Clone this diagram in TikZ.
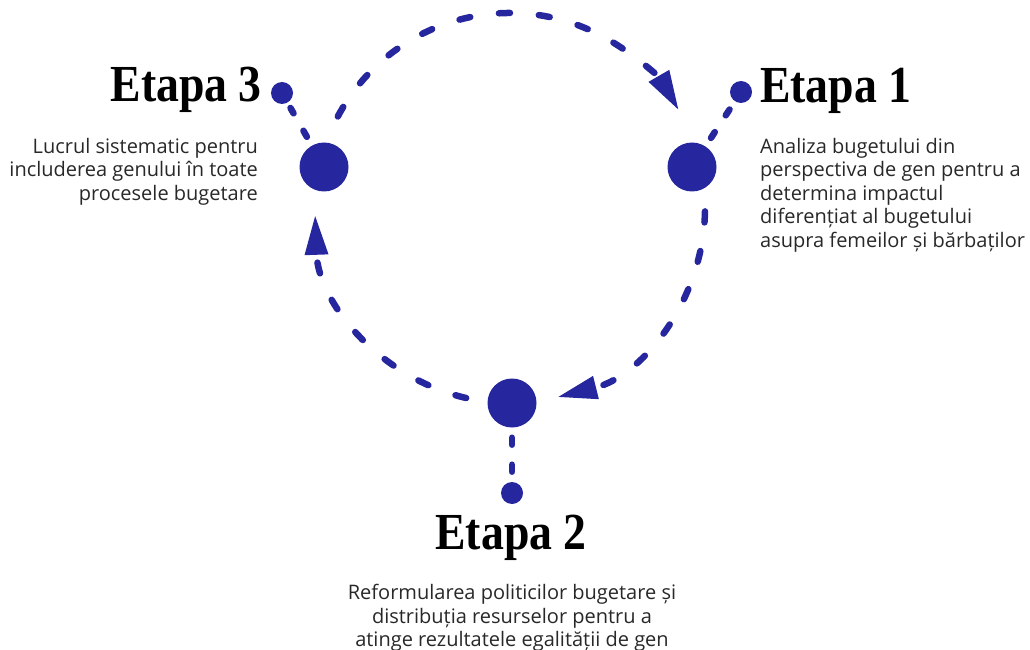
\documentclass[tikz,border=0pt]{standalone}
\usepackage{fontspec}
\setmainfont{Open Sans}
\newfontfamily\titlefont[FakeStretch=0.88]{Liberation Serif}
\usepackage{tikz}
\usetikzlibrary{arrows.meta,calc}
\definecolor{etapablue}{RGB}{38,38,158}
\definecolor{textgray}{RGB}{40,40,40}

\begin{document}
\begin{tikzpicture}[x=1pt,y=1pt,
		bigdot/.style={circle,fill=etapablue,inner sep=0pt,minimum size=49pt},
		smalldot/.style={circle,fill=etapablue,inner sep=0pt,minimum size=22pt},
		ring/.style={etapablue,line width=6.5pt,line cap=round,dash pattern=on 11pt off 29pt,-{Triangle[length=40pt,width=22pt]}},
		stem/.style={etapablue,line width=6.5pt,line cap=round,dash pattern=on 7pt off 20pt,shorten <=10pt,shorten >=6pt},
		title/.style={inner sep=0pt,font=\titlefont\bfseries\fontsize{52}{52}\selectfont},
		body/.style={inner sep=0pt,text=textgray,font=\fontsize{20}{23.5}\selectfont}]
		\useasboundingbox (0,0) rectangle (1030,649);
		\coordinate (c) at (510,441);
		% the three stages on the ring
		\node[bigdot] (b3) at (324,482) {};
		\node[bigdot] (b1) at (692,482) {};
		\node[bigdot] (b2) at (512,246) {};
		\node[smalldot] (s3) at (282,556) {};
		\node[smalldot] (s1) at (741,557) {};
		\node[smalldot] (s2) at (512,156) {};
		\draw[stem] (b3) -- (s3);
		\draw[stem] (b1) -- (s1);
		\draw[stem] (b2) -- (s2);
		% dashed arcs, clockwise
		\draw[ring] ($(c)+(152:195)$) arc (152:30:195);
		\draw[ring] ($(c)+(-1:195)$) arc (-1:-76:195);
		\draw[ring] ($(c)+(-103:195)$) arc (-103:-178:195);
		%\draw[red] (c) circle (195);
		% labels
		\node[title,anchor=base east] (t3) at (262,547) {Etapa 3};
		\node[title,anchor=base west] (t1) at (760,546) {Etapa 1};
		\node[title,anchor=base] (t2) at (511,100) {Etapa 2};
		\node[body,align=right,anchor=north east] (x3) at (258,511) {Lucrul sistematic pentru\\ includerea genului în toate\\ procesele bugetare};
		\node[body,align=left,anchor=north west] (x1) at (760,511) {Analiza bugetului din\\ perspectiva de gen pentru a\\ determina impactul\\ diferențiat al bugetului\\ asupra femeilor și bărbaților};
		\node[body,align=center,anchor=north] (x2) at (512,65) {Reformularea politicilor bugetare și\\ distribuția resurselor pentru a\\ atinge rezultatele egalității de gen};
	\end{tikzpicture}
\end{document}
